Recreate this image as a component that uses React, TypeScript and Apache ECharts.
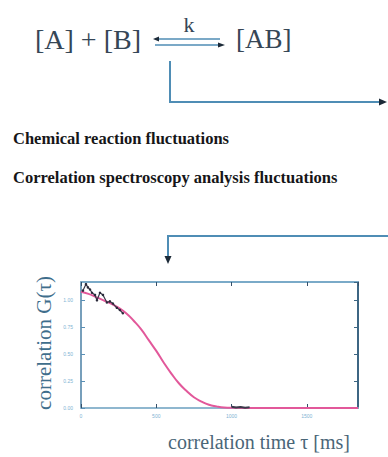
import React, { useEffect, useRef } from "react";
import * as echarts from "echarts";

const xTicks = [0, 500, 1000, 1500];
const yTicks = [0, 0.25, 0.5, 0.75, 1.0];
const fitTau = [0, 50, 100, 150, 200, 250, 300, 350, 400, 450, 500, 550, 600, 650, 700, 750, 800, 850, 900, 950, 1000, 1200, 1400, 1600, 1840];
const fitG = [1.08, 1.06, 1.03, 1.0, 0.97, 0.93, 0.88, 0.81, 0.73, 0.63, 0.53, 0.42, 0.32, 0.23, 0.16, 0.1, 0.06, 0.03, 0.015, 0.005, 0.002, 0.001, 0.001, 0.001, 0.001];
const dataTau = [13, 33, 46, 60, 73, 93, 106, 126, 146, 172, 192, 212, 238, 258, 278, 1000, 1030, 1060, 1090, 1120];
const dataG = [1.09, 1.15, 1.12, 1.1, 1.07, 1.05, 1.0, 1.07, 1.05, 0.98, 0.99, 0.97, 0.93, 0.91, 0.88, 0.012, 0.004, 0.01, 0.003, 0.008];

const texts = {
  reactants: "[A] + [B]",
  product: "[AB]",
  rate: "k",
  line1: "Chemical reaction fluctuations",
  line2: "Correlation spectroscopy analysis fluctuations",
  yName: "correlation G(τ)",
  xName: "correlation time τ [ms]",
};

export default function App() {
  const ref = useRef<HTMLDivElement>(null);
  useEffect(() => {
    if (!ref.current) return;
    const chart = echarts.init(ref.current, null, { renderer: "svg" });
    const lineBlue = "#4f8db5";
    const arrowDark = "#1c2a38";
    const serif = "Liberation Serif";
    const tickLabel = { fontSize: 5, color: "#7fb3d3", fontFamily: "sans-serif" };
    const fitData = fitTau.map((t, i) => [t, fitG[i]]);
    const pts = dataTau.map((t, i) => [t, dataG[i]]);
    const txt = (text: string, size: number, fill: string, extra: any = {}) => ({
      text, fontSize: size, fontFamily: serif, fill, ...extra,
    });
    const boldish = { verticalAlign: "middle", fontWeight: "bold" };
    chart.setOption({
      animation: false,
      backgroundColor: "#ffffff",
      grid: { left: 81, top: 282, right: 30, bottom: 49, show: false },
      xAxis: [
        {
          type: "value", min: 0, max: 1840, interval: 500, position: "bottom",
          axisLine: { show: true, onZero: false, lineStyle: { color: "#8fb7cf", width: 2 } },
          axisTick: { show: true, inside: true, length: 4, lineStyle: { color: "#35506a" } },
          axisLabel: { ...tickLabel, showMaxLabel: false, margin: 5, formatter: (v: number) => (xTicks.includes(v) ? String(v) : "") },
          splitLine: { show: false },
        },
        {
          type: "value", min: 0, max: 1840, interval: 500, position: "top",
          axisLine: { show: true, onZero: false, lineStyle: { color: "#7aaac8", width: 2 } },
          axisTick: { show: true, inside: true, length: 4, lineStyle: { color: "#35506a" } },
          axisLabel: { show: false },
          splitLine: { show: false },
        },
      ],
      yAxis: [
        {
          type: "value", min: 0, max: 1.17, interval: 0.25, position: "left",
          axisLine: { show: true, onZero: false, lineStyle: { color: "#4a7fa5", width: 1.5 } },
          axisTick: { show: true, inside: true, length: 4, lineStyle: { color: "#5a8fb5" } },
          axisLabel: { ...tickLabel, showMaxLabel: false, margin: 8, formatter: (v: number) => (yTicks.includes(v) ? v.toFixed(2) : "") },
          splitLine: { show: false },
        },
        {
          type: "value", min: 0, max: 1.17, interval: 0.25, position: "right",
          axisLine: { show: true, onZero: false, lineStyle: { color: "#3d6683", width: 2 } },
          axisTick: { show: true, inside: true, length: 4, lineStyle: { color: "#3d6683" } },
          axisLabel: { show: false },
          splitLine: { show: false },
        },
      ],
      series: [
        {
          type: "line", data: fitData, smooth: true, showSymbol: false,
          lineStyle: { color: "#e2589a", width: 2 }, z: 3,
        },
        {
          type: "line", data: pts.slice(0, 15), showSymbol: true, symbol: "circle", symbolSize: 2.5,
          itemStyle: { color: "#2a2a3a" }, lineStyle: { color: "#3a3a4a", width: 1.2 }, z: 4,
        },
        {
          type: "line", data: pts.slice(15), showSymbol: false,
          lineStyle: { color: "#3a3a4a", width: 2 }, z: 4,
        },
      ],
      graphic: [
        { type: "text", x: 35, y: 39, style: txt(texts.reactants, 28, "#364656", { verticalAlign: "middle" }) },
        { type: "text", x: 236, y: 39, style: txt(texts.product, 27, "#364656", { verticalAlign: "middle" }) },
        { type: "text", x: 189, y: 24, style: txt(texts.rate, 22, "#364656", { verticalAlign: "middle", align: "center" }) },
        { type: "line", shape: { x1: 158, y1: 39, x2: 220, y2: 39 }, style: { stroke: lineBlue, lineWidth: 1.5 } },
        { type: "polygon", shape: { points: [[153, 39], [159, 36.5], [159, 41.5]] }, style: { fill: arrowDark } },
        { type: "line", shape: { x1: 155, y1: 45, x2: 219, y2: 45 }, style: { stroke: lineBlue, lineWidth: 1.5 } },
        { type: "polygon", shape: { points: [[225, 45], [218, 42.5], [218, 47.5]] }, style: { fill: arrowDark } },
        { type: "polyline", shape: { points: [[170, 61], [170, 102], [380, 102]] }, style: { stroke: lineBlue, lineWidth: 2, fill: "none" } },
        { type: "polygon", shape: { points: [[387, 102], [379, 98.5], [379, 105.5]] }, style: { fill: arrowDark } },
        { type: "text", x: 13, y: 138, style: txt(texts.line1, 16.5, "#161618", boldish) },
        { type: "text", x: 13, y: 177, style: txt(texts.line2, 16.5, "#161618", boldish) },
        { type: "polyline", shape: { points: [[388, 236], [168, 236], [168, 257]] }, style: { stroke: lineBlue, lineWidth: 2, fill: "none" } },
        { type: "polygon", shape: { points: [[168, 264], [164.5, 256], [171.5, 256]] }, style: { fill: arrowDark } },
        { type: "text", x: 44, y: 343, rotation: Math.PI / 2, style: txt(texts.yName, 21, "#3f6e8c", { align: "center", verticalAlign: "middle" }) },
        { type: "text", x: 259, y: 442, style: txt(texts.xName, 20, "#4a6678", { align: "center", verticalAlign: "middle" }) },
      ],
    });
    return () => chart.dispose();
  }, []);
  return <div ref={ref} style={{ position: "fixed", left: 0, top: 0, width: 388, height: 457 }} />;
}
